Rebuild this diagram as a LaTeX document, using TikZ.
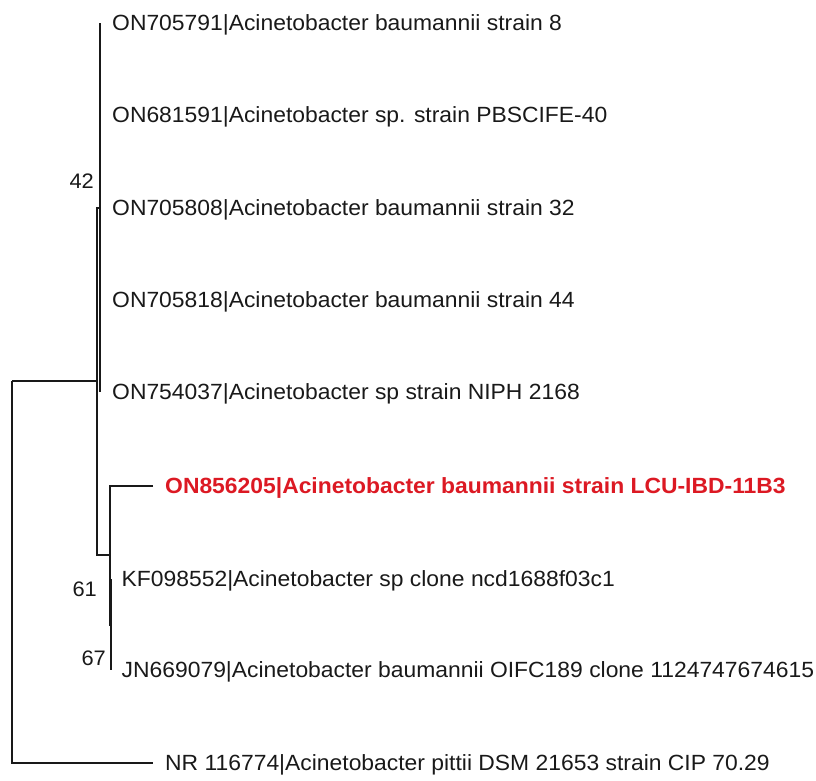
\documentclass[tikz,border=0pt]{standalone}
\usepackage{fontspec}
\setmainfont[FakeStretch=1.04]{Liberation Sans}
\definecolor{ink}{RGB}{25,25,25}
\definecolor{hilite}{RGB}{220,25,35}
\begin{document}
\begin{tikzpicture}[x=1pt,y=-1pt,
  branch/.style={draw=ink,line width=1.2pt},
  leafbase/.style={anchor=base west,inner sep=0pt,text=ink,font=\fontsize{22}{26}\selectfont,yshift=-7.9pt},
  leaf/.style={leafbase,xshift=12pt},
  leafnear/.style={leafbase,xshift=10.5pt},
  redleaf/.style={leaf,text=hilite,font=\fontsize{22}{26}\selectfont\bfseries},
  boot/.style={anchor=base east,inner sep=0pt,text=ink,font=\fontsize{21}{25}\selectfont}]
\useasboundingbox (0,0) rectangle (816,780);
% internal nodes
\coordinate (root) at (12,381);
\coordinate (n1) at (97,381);
\coordinate (c42) at (100,208);
\coordinate (nA) at (110,555);
\coordinate (nB) at (111,625);
% tips
\coordinate (t1) at (100,23);
\coordinate (t2) at (100,115);
\coordinate (t3) at (100,208);
\coordinate (t4) at (100,300);
\coordinate (t5) at (100,392);
\coordinate (t6) at (153,486);
\coordinate (t7) at (111,579);
\coordinate (t8) at (111,670);
\coordinate (t9) at (153,763);
% branches
\draw[branch] (root) -- (n1);
\draw[branch] (root) |- (t9);
\draw[branch] (c42) -- (n1 |- c42) -- (n1 |- nA) -- (nA);
\draw[branch] (t1) -- (t2) -- (t3) -- (t4) -- (t5);
\draw[branch] (t6) -- (nA |- t6) -- (nA |- nB) -- (nB);
\draw[branch] (t7) -- (t8);
% leaf labels
\node[leaf] (L1) at (t1) {ON705791|Acinetobacter baumannii strain 8};
\node[leaf] (L2) at (t2) {ON681591|Acinetobacter sp. strain PBSCIFE-40};
\node[leaf] (L3) at (t3) {ON705808|Acinetobacter baumannii strain 32};
\node[leaf] (L4) at (t4) {ON705818|Acinetobacter baumannii strain 44};
\node[leaf] (L5) at (t5) {ON754037|Acinetobacter sp strain NIPH 2168};
\node[redleaf] (L6) at (t6) {ON856205|Acinetobacter baumannii strain LCU-IBD-11B3};
\node[leafnear] (L7) at (t7) {KF098552|Acinetobacter sp clone ncd1688f03c1};
\node[leafnear] (L8) at (t8) {JN669079|Acinetobacter baumannii OIFC189 clone 1124747674615};
\node[leaf] (L9) at (t9) {NR 116774|Acinetobacter pittii DSM 21653 strain CIP 70.29};
% bootstrap values
\node[boot] (b42) at (94,188) {42};
\node[boot] (b61) at (97,596) {61};
\node[boot] (b67) at (106,665) {67};
\end{tikzpicture}
\end{document}
